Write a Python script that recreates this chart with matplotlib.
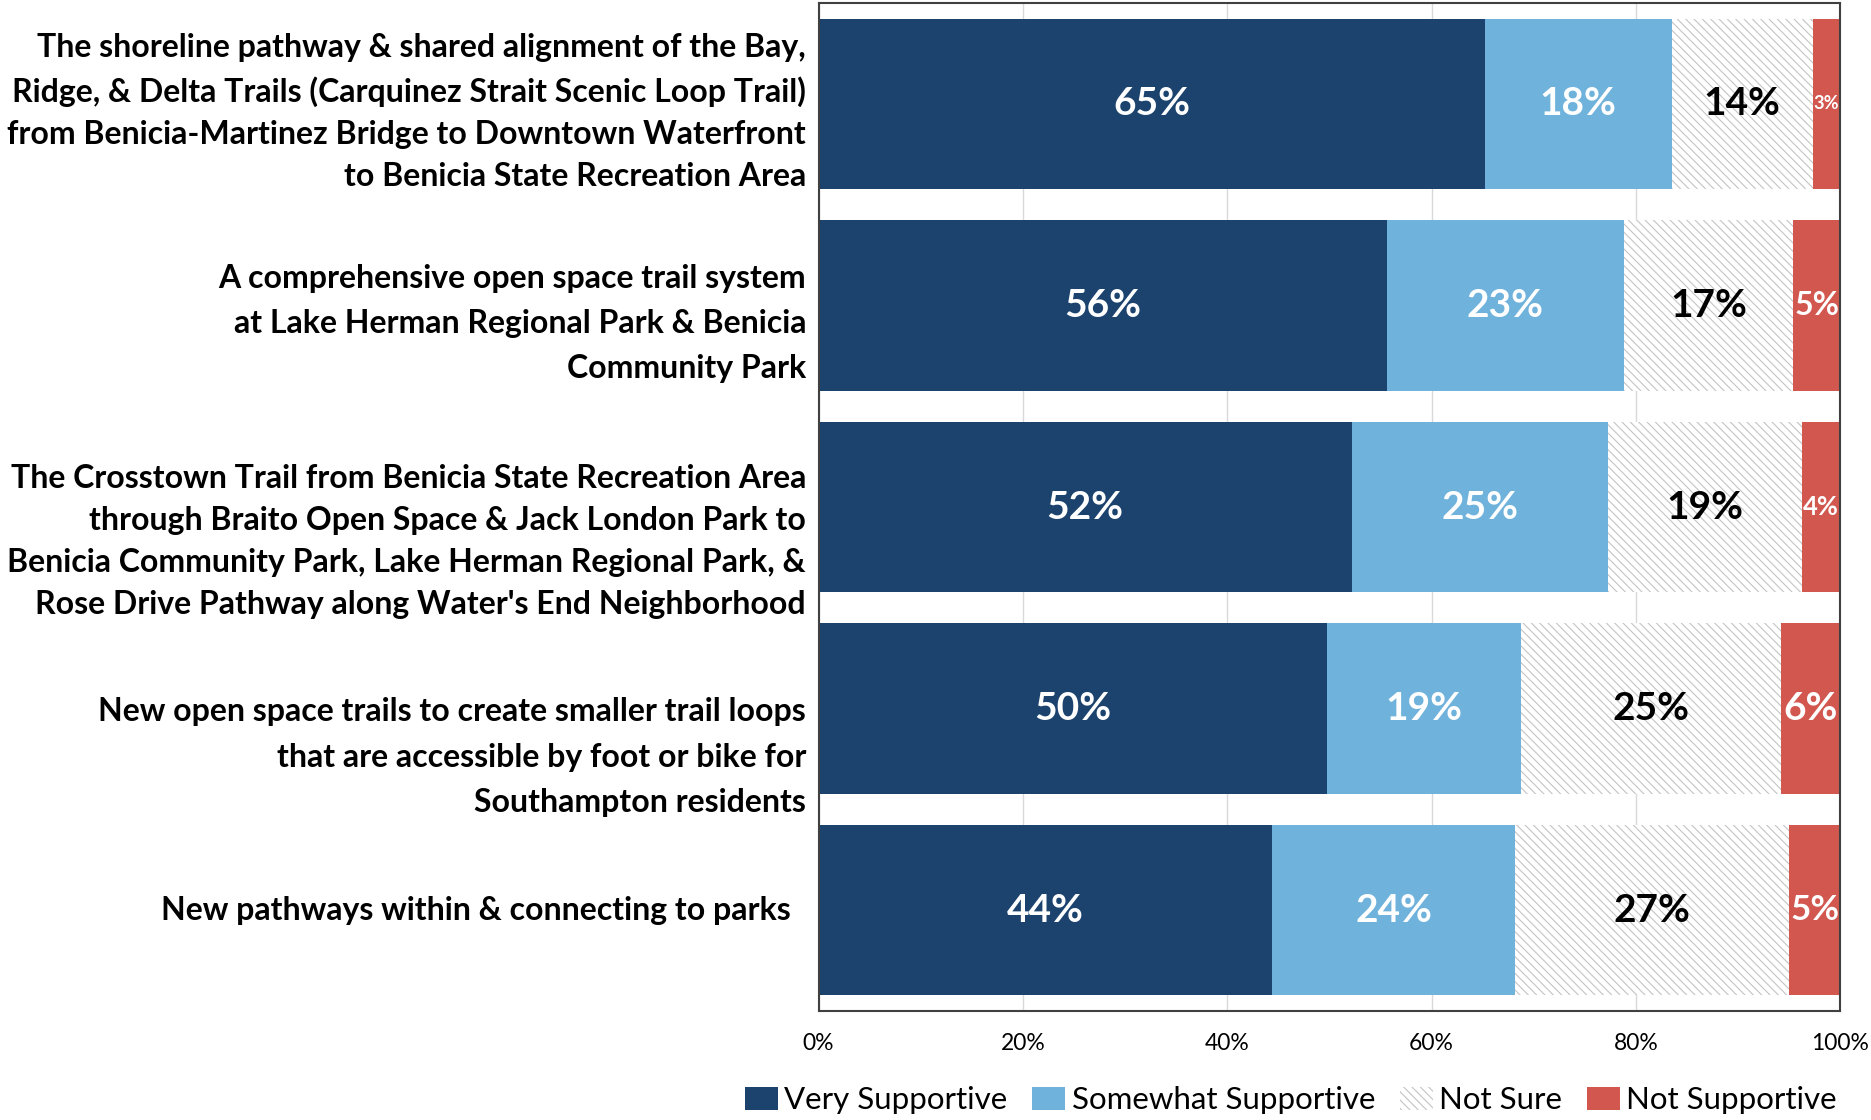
import matplotlib
matplotlib.use("Agg")
import matplotlib.pyplot as plt
from matplotlib.patches import Patch

plt.rcParams['font.family'] = ['Lato', 'DejaVu Sans']
plt.rcParams['hatch.linewidth'] = 0.8

# survey answers, percent of respondents
categories = [
    "The shoreline pathway & shared alignment of the Bay,\n"
    "Ridge, & Delta Trails (Carquinez Strait Scenic Loop Trail)\n"
    "from Benicia-Martinez Bridge to Downtown Waterfront\n"
    "to Benicia State Recreation Area",
    "A comprehensive open space trail system\n"
    "at Lake Herman Regional Park & Benicia\n"
    "Community Park",
    "The Crosstown Trail from Benicia State Recreation Area\n"
    "through Braito Open Space & Jack London Park to\n"
    "Benicia Community Park, Lake Herman Regional Park, &\n"
    "Rose Drive Pathway along Water's End Neighborhood",
    "New open space trails to create smaller trail loops\n"
    "that are accessible by foot or bike for\n"
    "Southampton residents",
    "New pathways within & connecting to parks  ",
]
series_names = ["Very Supportive", "Somewhat Supportive", "Not Sure", "Not Supportive"]
very = [65.2, 55.6, 52.2, 49.8, 44.4]
somewhat = [18.3, 23.2, 25.1, 19.0, 23.8]
not_sure = [13.8, 16.6, 19.0, 25.4, 26.8]
not_supp = [2.7, 4.6, 3.7, 5.8, 5.0]
x_ticks = [0, 20, 40, 60, 80, 100]

colors = ['#1B436E', '#6FB2DC', 'white', '#D1574F']
text_colors = ['white', 'white', 'black', 'white']
# the wrapped labels sit a bit below their bar centre in the original
label_shift = [0.04, 0.09, 0.17, 0.24, 0.0]

fig = plt.figure(figsize=(18.71, 11.2), dpi=100)
ax = fig.add_axes([0.4375, 0.0973, 0.546, 0.9])

ypos = list(range(len(categories)))
left = [0.0] * len(categories)
bars_all = []
for i, vals in enumerate([very, somewhat, not_sure, not_supp]):
    if series_names[i] == "Not Sure":
        bars = ax.barh(ypos, vals, left=left, height=0.845, facecolor='white',
                       edgecolor='#C4C4C4', linewidth=0, hatch='\\\\\\\\', zorder=2)
    else:
        bars = ax.barh(ypos, vals, left=left, height=0.845, color=colors[i],
                       linewidth=0, zorder=2)
    bars_all.append((bars, vals, text_colors[i]))
    left = [l + v for l, v in zip(left, vals)]

ax.set_xlim(0, 100)
ax.set_ylim(4.5, -0.5)
ax.set_xticks(x_ticks)
ax.set_xticklabels([f"{t}%" for t in x_ticks], fontsize=16.5)
ax.set_yticks(ypos)
ax.set_yticklabels([])
ax.tick_params(axis='y', length=0)
ax.tick_params(axis='x', length=0, pad=16)
for y, txt, dy in zip(ypos, categories, label_shift):
    ax.text(-0.0122, y + dy, txt, transform=ax.get_yaxis_transform(),
            ha='right', va='center', fontsize=23.0, fontweight='bold',
            linespacing=1.68 if txt.count("\n") == 2 else 1.54)
ax.grid(axis='x', color='#D9D9D9', linewidth=1, zorder=0)
ax.set_axisbelow(True)
for s in ax.spines.values():
    s.set_color('#404040')
    s.set_linewidth(1.5)

# value labels, shrunk when the segment is too narrow
fig.canvas.draw()
renderer = fig.canvas.get_renderer()
for bars, vals, tc in bars_all:
    for rect, v in zip(bars, vals):
        cx = rect.get_x() + rect.get_width() / 2
        cy = rect.get_y() + rect.get_height() / 2
        t = ax.text(cx, cy, f"{int(v + 0.5)}%", ha='center', va='center',
                    color=tc, fontsize=28, fontweight='bold', zorder=3)
        w_text = t.get_window_extent(renderer).width
        p0 = ax.transData.transform((rect.get_x(), 0))[0]
        p1 = ax.transData.transform((rect.get_x() + rect.get_width(), 0))[0]
        seg = p1 - p0 - 2
        if w_text > seg:
            t.set_fontsize(28 * seg / w_text)

handles = [
    Patch(facecolor=colors[0], edgecolor='none'),
    Patch(facecolor=colors[1], edgecolor='none'),
    Patch(facecolor='white', edgecolor='#C4C4C4', hatch='\\\\\\\\', linewidth=0),
    Patch(facecolor=colors[3], edgecolor='none'),
]
fig.legend(handles, series_names, loc='center', bbox_to_anchor=(0.69, 0.0175),
           ncol=4, frameon=False, fontsize=22.5, handlelength=1.05, handleheight=0.8,
           handletextpad=0.2, columnspacing=0.8, borderaxespad=0)

fig.savefig("out.png", dpi=100)
